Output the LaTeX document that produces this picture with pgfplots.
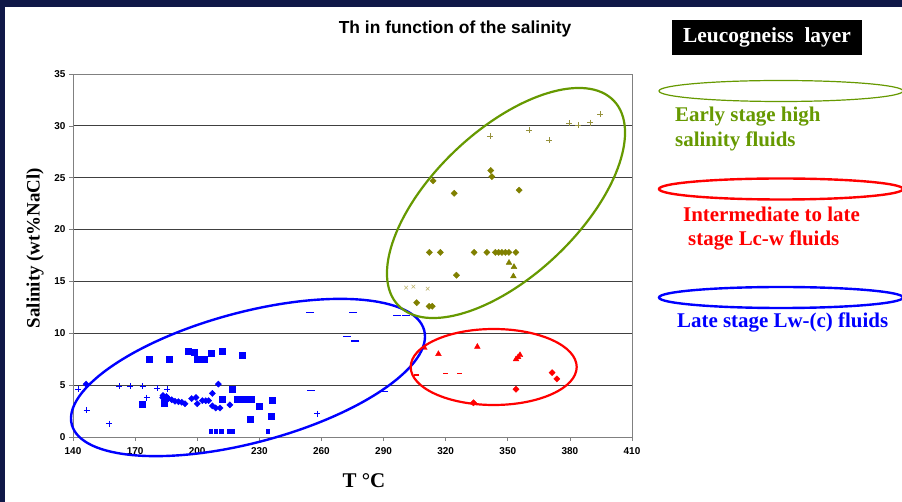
\documentclass[border=0pt]{standalone}
\usepackage{pgfplots}
\pgfplotsset{compat=1.18}
\usepackage{fontspec}
\setmainfont{Liberation Serif}
\newfontfamily\arial{Liberation Sans}
\definecolor{navy}{RGB}{16,24,72}
\definecolor{grn}{RGB}{102,153,0}
\definecolor{oliv}{RGB}{128,128,0}
\definecolor{olivlt}{RGB}{150,145,60}
\definecolor{khaki}{RGB}{190,180,110}
\begin{document}
\begin{tikzpicture}
\useasboundingbox (0,0) rectangle (902bp,502bp);
\fill[navy] (0,0) rectangle (902bp,502bp);
\fill[white] (5bp,0) rectangle (902bp,495bp);
\begin{axis}[
    at={(73bp,65bp)}, anchor=south west,
    scale only axis, width=559bp, height=363bp,
    xmin=140, xmax=410, ymin=0, ymax=35,
    xtick={140,170,...,410}, ytick={0,5,...,35},
    tick align=outside, major tick length=4bp,
    xtick pos=bottom, ytick pos=left,
    ymajorgrids, major grid style={black!75, line width=0.8bp},
    axis line style={gray, line width=0.8bp},
    tick style={gray, line width=0.6bp},
    /pgf/number format/assume math mode=true,
    ticklabel style={font=\arial\bfseries\fontsize{10}{12}\selectfont},
    xticklabel style={yshift=-3bp},
    only marks,
]
% late stage Lw-(c) fluids (blue)
\addplot[blue, mark=square*, mark size=3bp] coordinates {
 (176.9,7.5) (186.5,7.5) (195.5,8.3) (198.6,8.2) (200.0,7.5) (203.4,7.5)
 (206.7,8.1) (212.1,8.3) (221.5,7.9) (173.6,3.2) (184.0,3.25) (216.9,4.6)
 (212.1,3.6) (219.1,3.65) (222.2,3.65) (225.2,3.65) (226.3,3.65) (225.5,1.7)
 (230.0,3.0) (236.3,3.5) (235.5,2.0)
};
\addplot[blue, mark=square*, mark size=1.7bp] coordinates {
 (206.5,0.55) (209.0,0.55) (211.6,0.55) (215.2,0.55) (217.2,0.55) (234.1,0.55)
};
\addplot[blue, mark=square*, mark size=2.2bp, mark options={rotate=45}] coordinates {
 (183.5,4.0) (183.3,3.8) (184.4,3.6) (185.2,3.9) (186.0,3.7) (187.7,3.6)
 (189.3,3.45) (190.9,3.4) (192.5,3.35) (194.1,3.2) (197.3,3.7) (199.4,3.8)
 (200.0,3.2) (202.5,3.5) (204.1,3.5) (205.5,3.5) (207.3,4.2) (207.3,3.0)
 (208.9,2.8) (211.0,2.8) (215.8,3.1) (210.2,5.1) (146.3,5.1)
};
\addplot[blue, mark=+, mark size=3bp, mark options={line width=0.6bp}] coordinates {
 (142.6,4.6) (146.6,2.6) (157.5,1.3) (162.4,4.9) (167.5,4.9) (173.6,4.9)
 (175.6,3.8) (180.7,4.7) (185.6,4.6) (258.0,2.25)
};
\addplot[blue, mark=-, mark size=4bp, mark options={line width=1.5bp}] coordinates {
 (254.5,12.0) (275.1,12.0) (296.5,11.7) (301.0,11.7) (272.2,9.7) (276.4,9.25)
 (254.8,4.5) (290.0,4.4)
};
% intermediate to late stage Lc-w fluids (red)
\addplot[red, mark=triangle*, mark size=3.3bp] coordinates {
 (309.7,8.6) (316.5,8.0) (335.3,8.7) (354.0,7.5) (355.9,7.9) (355.0,7.7)
};
\addplot[red, mark=-, mark size=2.5bp, mark options={line width=1.5bp}] coordinates {
 (306.0,6.0) (319.9,6.1) (326.5,6.1)
};
\addplot[red, mark=square*, mark size=2.2bp, mark options={rotate=45}] coordinates {
 (371.4,6.2) (373.7,5.6) (354.0,4.6) (333.4,3.3)
};
% early stage high salinity fluids (olive)
\addplot[olivlt, mark=+, mark size=3bp, mark options={line width=0.6bp}] coordinates {
 (341.4,29.0) (360.3,29.6) (370.1,28.6) (379.8,30.25) (384.0,30.05) (389.8,30.3) (394.6,31.1)
};
\addplot[oliv, mark=square*, mark size=2.2bp, mark options={rotate=45}] coordinates {
 (313.9,24.7) (324.1,23.5) (341.8,25.7) (342.3,25.1) (355.5,23.8)
 (312.1,17.8) (317.4,17.8) (333.7,17.8) (339.9,17.8) (344.0,17.8) (345.6,17.8)
 (347.2,17.8) (348.8,17.8) (350.5,17.8) (353.9,17.8) (325.2,15.6)
 (306.0,12.95) (312.0,12.6) (313.5,12.6)
};
\addplot[oliv, mark=triangle*, mark size=3.3bp] coordinates {
 (350.6,16.8) (353.0,16.4) (352.7,15.5)
};
\addplot[khaki, mark=x, mark size=2.5bp, mark options={line width=0.6bp}] coordinates {
 (300.9,14.4) (304.4,14.5) (311.3,14.3)
};
\end{axis}
% grouping ellipses
\draw[blue, line width=2.4bp, rotate around={15:(248bp,124.5bp)}] (248bp,124.5bp) ellipse [x radius=182.4bp, y radius=65.1bp];
\draw[grn, line width=2.2bp, rotate around={43.4:(506bp,299bp)}] (506bp,299bp) ellipse [x radius=148.6bp, y radius=72.9bp];
\draw[red, line width=2.2bp] (493.7bp,135bp) ellipse [x radius=83bp, y radius=38bp];
% texts
\node[font=\arial\bfseries\fontsize{17.5}{21}\selectfont, anchor=base] at (455bp,468.5bp) {Th in function of the salinity};
\node[fill=black, text=white, minimum width=190bp, minimum height=35bp, inner sep=0pt,
      font=\bfseries\fontsize{21.5}{25}\selectfont] at (767bp,464.8bp) {Leucogneiss\ \ layer};
\node[font=\bfseries\fontsize{19}{22}\selectfont, rotate=90] at (35bp,254bp) {Salinity (wt\%NaCl)};
\node[font=\bfseries\fontsize{21}{25}\selectfont, anchor=base] at (364bp,15bp) {T °C};
% legend
\draw[grn, line width=1.2bp] (781bp,411bp) ellipse [x radius=122bp, y radius=10.5bp];
\draw[red, line width=2.4bp] (781bp,313bp) ellipse [x radius=122bp, y radius=10.5bp];
\draw[blue, line width=2.4bp] (781bp,204.5bp) ellipse [x radius=122bp, y radius=10.5bp];
\begin{scope}[every node/.style={anchor=base west, inner sep=0pt, font=\bfseries\fontsize{21}{25}\selectfont}]
\node[text=grn] at (675bp,380.5bp) {Early stage high};
\node[text=grn] at (675bp,355.5bp) {salinity fluids};
\node[text=red] at (683bp,280.3bp) {Intermediate to late};
\node[text=red] at (688bp,256bp) {stage Lc-w fluids};
\node[text=blue] at (677bp,174bp) {Late stage Lw-(c) fluids};
\end{scope}
\end{tikzpicture}
\end{document}
